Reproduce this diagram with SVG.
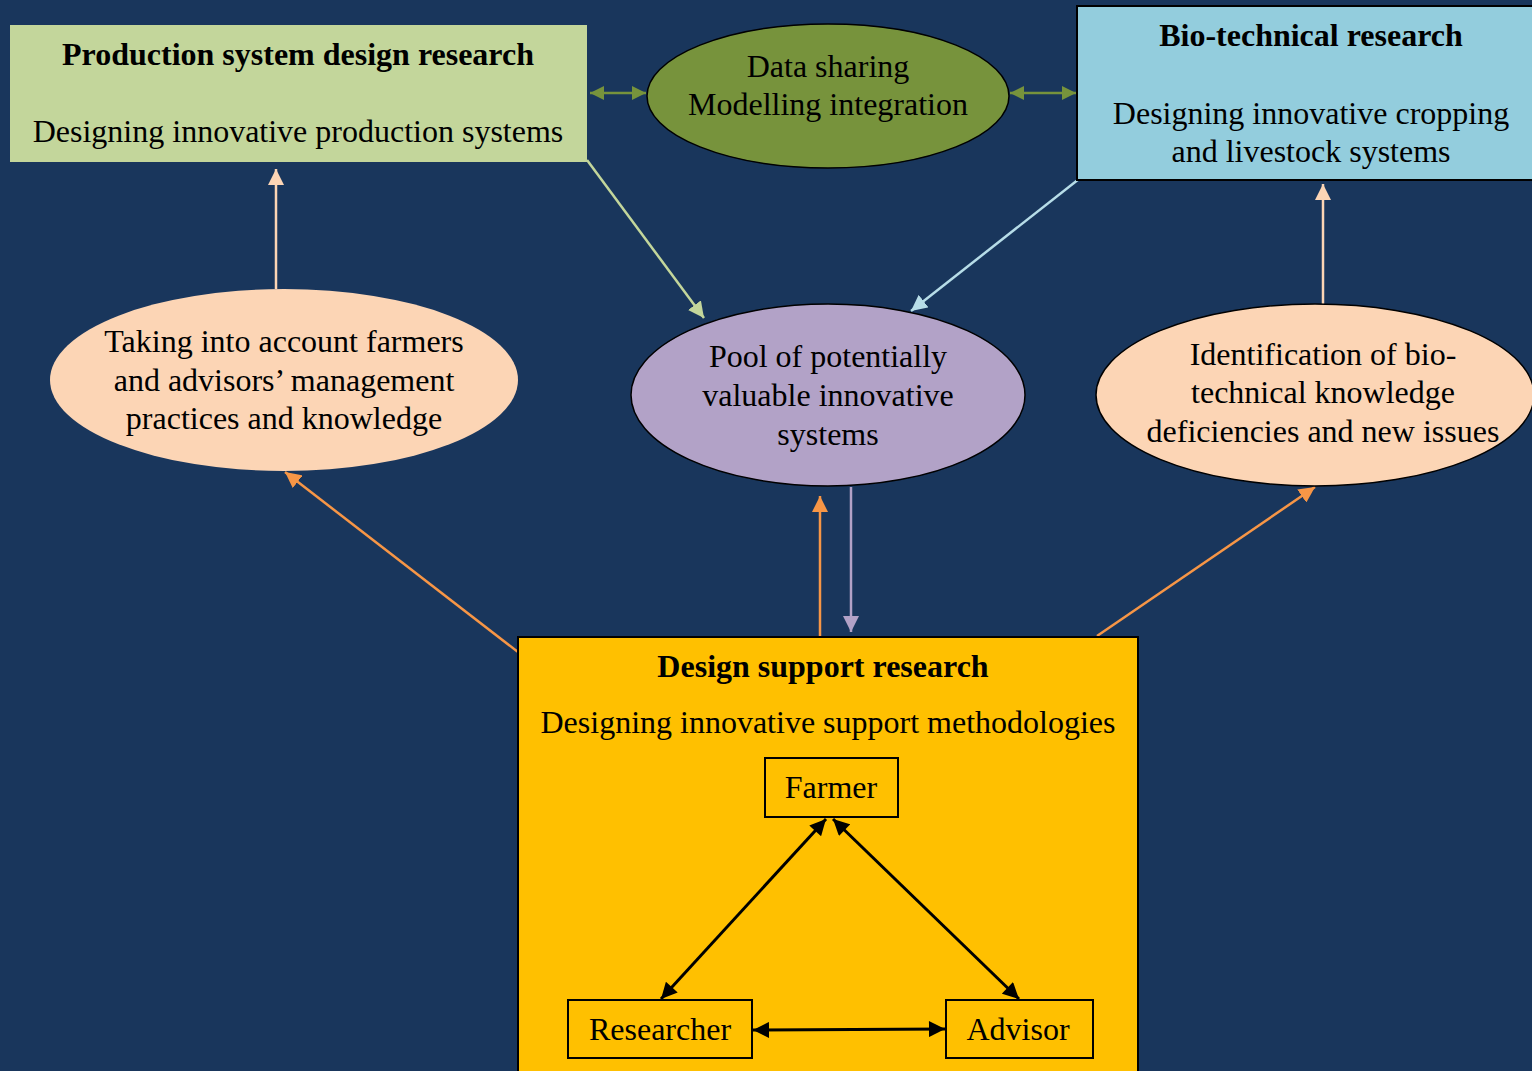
<svg xmlns="http://www.w3.org/2000/svg" width="1532" height="1071" viewBox="0 0 1532 1071">
  <style>
    text { font-family: "Liberation Serif", "Times New Roman", serif; font-size: 32px; fill: #000; text-anchor: middle; }
    .b { font-weight: bold; }
    .edge { fill: none; stroke-width: 2.5; }
    .blk { fill: none; stroke: #000; stroke-width: 3; }
  </style>
  <defs>
    <marker id="m-green" viewBox="0 0 10 10" refX="10" refY="5" markerWidth="16" markerHeight="14" markerUnits="userSpaceOnUse" orient="auto-start-reverse"><path d="M0,0 L10,5 L0,10 Z" fill="#77933c"/></marker>
    <marker id="m-lgreen" viewBox="0 0 10 10" refX="10" refY="5" markerWidth="16" markerHeight="16" markerUnits="userSpaceOnUse" orient="auto"><path d="M0,0 L10,5 L0,10 Z" fill="#c3d69b"/></marker>
    <marker id="m-blue" viewBox="0 0 10 10" refX="10" refY="5" markerWidth="16" markerHeight="16" markerUnits="userSpaceOnUse" orient="auto"><path d="M0,0 L10,5 L0,10 Z" fill="#b7dde8"/></marker>
    <marker id="m-peach" viewBox="0 0 10 10" refX="10" refY="5" markerWidth="16" markerHeight="16" markerUnits="userSpaceOnUse" orient="auto"><path d="M0,0 L10,5 L0,10 Z" fill="#fcd5b5"/></marker>
    <marker id="m-orange" viewBox="0 0 10 10" refX="10" refY="5" markerWidth="16" markerHeight="16" markerUnits="userSpaceOnUse" orient="auto"><path d="M0,0 L10,5 L0,10 Z" fill="#f79646"/></marker>
    <marker id="m-purple" viewBox="0 0 10 10" refX="10" refY="5" markerWidth="16" markerHeight="16" markerUnits="userSpaceOnUse" orient="auto"><path d="M0,0 L10,5 L0,10 Z" fill="#b2a2c7"/></marker>
    <marker id="m-black" viewBox="0 0 10 10" refX="10" refY="5" markerWidth="18" markerHeight="16" markerUnits="userSpaceOnUse" orient="auto-start-reverse"><path d="M0,0 L10,5 L0,10 Z" fill="#000"/></marker>
  </defs>

  <rect width="1532" height="1071" fill="#19365c"/>

  <!-- Connectors -->
  <g id="connectors">
    <line class="edge" x1="590" y1="93" x2="646" y2="93" stroke="#77933c" marker-start="url(#m-green)" marker-end="url(#m-green)"/>
    <line class="edge" x1="1010" y1="93" x2="1076" y2="93" stroke="#77933c" marker-start="url(#m-green)" marker-end="url(#m-green)"/>
    <line class="edge" x1="587" y1="160" x2="704" y2="318" stroke="#c3d69b" marker-end="url(#m-lgreen)"/>
    <line class="edge" x1="1079" y1="179" x2="911" y2="311" stroke="#b7dde8" marker-end="url(#m-blue)"/>
    <line class="edge" x1="276" y1="289" x2="276" y2="169" stroke="#fcd5b5" marker-end="url(#m-peach)"/>
    <line class="edge" x1="1323" y1="304" x2="1323" y2="184" stroke="#fcd5b5" marker-end="url(#m-peach)"/>
    <line class="edge" x1="518" y1="652" x2="285" y2="472" stroke="#f79646" marker-end="url(#m-orange)"/>
    <line class="edge" x1="820" y1="637" x2="820" y2="496" stroke="#f79646" marker-end="url(#m-orange)"/>
    <line class="edge" x1="1097" y1="636" x2="1315" y2="487" stroke="#f79646" marker-end="url(#m-orange)"/>
    <line class="edge" x1="851" y1="487" x2="851" y2="632" stroke="#b2a2c7" marker-end="url(#m-purple)"/>
  </g>

  <!-- Production system design research -->
  <g id="production">
    <rect x="10" y="25" width="577" height="137" fill="#c3d69b"/>
    <text class="b" x="298" y="65">Production system design research</text>
    <text x="298" y="142">Designing innovative production systems</text>
  </g>

  <!-- Data sharing -->
  <g id="data-sharing">
    <ellipse cx="828" cy="96" rx="181" ry="72" fill="#77933c" stroke="#000" stroke-width="1.5"/>
    <text x="828" y="77">Data sharing</text>
    <text x="828" y="115">Modelling integration</text>
  </g>

  <!-- Bio-technical research -->
  <g id="bio-technical">
    <rect x="1077" y="6" width="460" height="174" fill="#93cddd" stroke="#000" stroke-width="2"/>
    <text class="b" x="1311" y="46">Bio-technical research</text>
    <text x="1311" y="124">Designing innovative cropping</text>
    <text x="1311" y="162">and livestock systems</text>
  </g>

  <!-- Farmers and advisors practices -->
  <g id="practices">
    <ellipse cx="284" cy="380" rx="234" ry="91" fill="#fcd5b5"/>
    <text x="284" y="352">Taking into account farmers</text>
    <text x="284" y="391">and advisors’ management</text>
    <text x="284" y="429">practices and knowledge</text>
  </g>

  <!-- Pool of innovative systems -->
  <g id="pool">
    <ellipse cx="828" cy="395" rx="197" ry="91" fill="#b2a2c7" stroke="#000" stroke-width="1.5"/>
    <text x="828" y="367">Pool of potentially</text>
    <text x="828" y="406">valuable innovative</text>
    <text x="828" y="445">systems</text>
  </g>

  <!-- Knowledge deficiencies -->
  <g id="deficiencies">
    <ellipse cx="1315" cy="395" rx="219" ry="91" fill="#fcd5b5" stroke="#000" stroke-width="1.5"/>
    <text x="1323" y="365">Identification of bio-</text>
    <text x="1323" y="403">technical knowledge</text>
    <text x="1323" y="442">deficiencies and new issues</text>
  </g>

  <!-- Design support research -->
  <g id="design-support">
    <rect x="518" y="637" width="620" height="440" fill="#ffc000" stroke="#000" stroke-width="2"/>
    <text class="b" x="823" y="677">Design support research</text>
    <text x="828" y="733">Designing innovative support methodologies</text>
  </g>

  <g id="farmer">
    <rect x="765" y="758" width="133" height="59" fill="none" stroke="#000" stroke-width="2"/>
    <text x="831" y="798">Farmer</text>
  </g>
  <g id="researcher">
    <rect x="568" y="1000" width="184" height="58" fill="none" stroke="#000" stroke-width="2"/>
    <text x="660" y="1040">Researcher</text>
  </g>
  <g id="advisor">
    <rect x="946" y="1000" width="147" height="58" fill="none" stroke="#000" stroke-width="2"/>
    <text x="1018" y="1040">Advisor</text>
  </g>

  <g id="triangle-connectors">
    <line class="blk" x1="826" y1="819" x2="661" y2="999" marker-start="url(#m-black)" marker-end="url(#m-black)"/>
    <line class="blk" x1="833" y1="819" x2="1019" y2="999" marker-start="url(#m-black)" marker-end="url(#m-black)"/>
    <line class="blk" x1="753" y1="1030" x2="945" y2="1029" marker-start="url(#m-black)" marker-end="url(#m-black)"/>
  </g>
</svg>
